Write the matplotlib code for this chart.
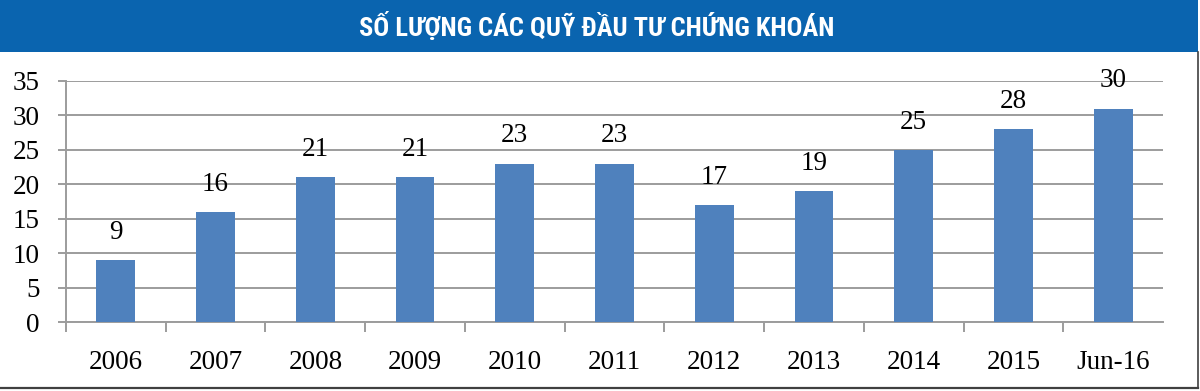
import matplotlib

matplotlib.use("Agg")
import matplotlib.pyplot as plt
from matplotlib import font_manager
from matplotlib.patches import Rectangle


TITLE = "SỐ LƯỢNG CÁC QUỸ ĐẦU TƯ CHỨNG KHOÁN"

categories = ["2006", "2007", "2008", "2009", "2010", "2011",
              "2012", "2013", "2014", "2015", "Jun-16"]
# bar heights as drawn; the last bar is drawn at 31 but labelled 30
values = [9, 16, 21, 21, 23, 23, 17, 19, 25, 28, 31]
bar_labels = ["9", "16", "21", "21", "23", "23", "17", "19", "25", "28", "30"]
y_ticks = [0, 5, 10, 15, 20, 25, 30, 35]

BAR_COLOR = "#4F81BD"
BANNER_COLOR = "#0A64AF"
GRID_COLOR = "#9C9C9C"
SERIF = ["Liberation Serif", "DejaVu Serif"]


def pick_title_font():
    fonts = font_manager.fontManager.ttflist
    names = {f.name for f in fonts}
    for fam in ["Liberation Sans Narrow", "Roboto Condensed",
                "Open Sans Condensed", "Noto Sans Condensed"]:
        if fam in names:
            return fam, "normal"
    for f in fonts:
        if f.name.startswith("DejaVu Sans") and f.stretch != "normal" \
                and "Mono" not in f.name:
            return f.name, "condensed"
    return "Liberation Sans", "normal"


def main() -> None:
    fig = plt.figure(figsize=(12, 3.91), dpi=100)
    W, H = 1200, 391

    # title banner
    fig.patches.append(Rectangle((0, 1 - 52 / H), 1198 / W, 52 / H,
                                 transform=fig.transFigure,
                                 facecolor=BANNER_COLOR, edgecolor="none"))
    fam, stretch = pick_title_font()
    title = fig.text(597 / W, 1 - 27 / H, TITLE, color="white",
                     family=[fam, "DejaVu Sans"], stretch=stretch,
                     fontweight="bold", fontsize=19, ha="center", va="center")
    # fit the title to the width it has in the banner
    renderer = fig.canvas.get_renderer()
    width = title.get_window_extent(renderer).width
    title.set_fontsize(min(24, 19 * 475 / width))

    # outer frame (right and bottom)
    fig.lines.append(plt.Line2D([1197.5 / W, 1197.5 / W], [1 - 52 / H, 1 - 388 / H],
                                transform=fig.transFigure, color="#404040", lw=1.2))
    fig.lines.append(plt.Line2D([0, 1197.5 / W], [1 - 388 / H, 1 - 388 / H],
                                transform=fig.transFigure, color="#404040", lw=1.6))

    ax = fig.add_axes([66 / W, 1 - 322 / H, (1163 - 66) / W, (322 - 81) / H])

    x = list(range(len(categories)))
    bars = ax.bar(x, values, width=0.39, color=BAR_COLOR, zorder=3)
    ax.bar_label(bars, labels=bar_labels, padding=11,
                 family=SERIF, fontsize=19.5, color="black")

    ax.set_xlim(-0.5, len(categories) - 0.5)
    ax.set_ylim(0, 35)
    ax.set_yticks(y_ticks)
    ax.yaxis.grid(True, color=GRID_COLOR, lw=1.4, zorder=0)

    ax.set_xticks(x)
    ax.set_xticklabels(categories)
    ax.set_xticks([i - 0.5 for i in x], minor=True)
    ax.tick_params(axis="x", which="major", length=0, pad=20)
    ax.tick_params(axis="x", which="minor", length=7, width=1.4,
                   color=GRID_COLOR, direction="out")
    ax.tick_params(axis="y", length=6, width=1.4, color=GRID_COLOR,
                   direction="out", pad=13)

    for lbl in ax.get_xticklabels() + ax.get_yticklabels():
        lbl.set_family(SERIF)
        lbl.set_fontsize(19.5)

    for side in ["top", "right"]:
        ax.spines[side].set_visible(False)
    for side in ["left", "bottom"]:
        ax.spines[side].set_color(GRID_COLOR)
        ax.spines[side].set_linewidth(1.4)

    fig.savefig("out.png", dpi=100)
    plt.close(fig)


if __name__ == "__main__":
    main()
